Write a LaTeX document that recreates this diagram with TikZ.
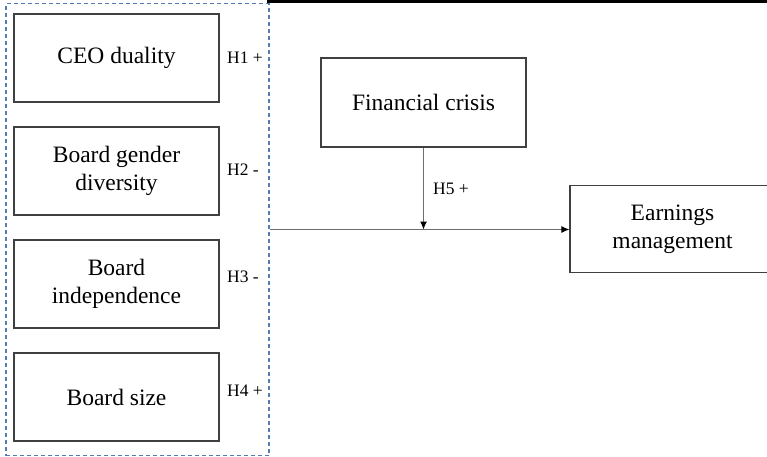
\documentclass[tikz,border=0pt]{standalone}
\usepackage{fontspec}
\setmainfont{Liberation Serif}
\usepackage{xcolor}
\usetikzlibrary{arrows.meta}
\definecolor{boxGray}{RGB}{64,64,64}
\definecolor{lineGray}{RGB}{110,110,110}
\definecolor{dashBlue}{RGB}{85,125,180}

\begin{document}
\begin{tikzpicture}[x=1pt,y=-1pt,
        var/.style={draw=boxGray,line width=1.2pt,minimum width=205pt,minimum height=88pt,
            inner sep=0pt,align=center,font=\fontsize{23.5}{27.5}\selectfont},
        hyp/.style={inner sep=0pt,anchor=west,font=\fontsize{17.5}{20}\selectfont},
        link/.style={draw=lineGray,line width=1pt,-{Latex[length=8pt,width=7pt,color=black]}}]
        \useasboundingbox (0,0) rectangle (767,456);
        \clip (0,0) rectangle (767,456);
        % top rule
        \draw[line width=3pt] (267,1.5) -- (767,1.5);
        % group of board variables
        \node[draw=dashBlue,line width=1.2pt,dash pattern=on 4pt off 3pt,
            minimum width=263pt,minimum height=452pt,inner sep=0pt] (group) at (137.5,229.5) {};
        % independent variables
        \node[var] (ceo) at (116.5,58) {CEO duality};
        \node[var] (gender) at (116.5,171) {Board gender\\diversity};
        \node[var] (indep) at (116.5,284) {Board\\independence};
        \node[var] (size) at (116.5,397) {Board size};
        % moderator and outcome
        \node[var,minimum height=89pt] (crisis) at (423.5,102.5) {Financial crisis};
        \node[var,minimum height=87pt] (earn) at (672.5,229) {Earnings\\management};
        % hypotheses
        \node[hyp] (h1) at (227,57.5) {H1 +};
        \node[hyp] (h2) at (227,170) {H2 -};
        \node[hyp] (h3) at (227,277) {H3 -};
        \node[hyp] (h4) at (227,391) {H4 +};
        % arrows
        \draw[link] (group.east) -- (group.east -| earn.west);
        \draw[link] (crisis.south) -- (crisis.south |- group.east);
        \node[hyp] (h5) at (433,189) {H5 +};
    \end{tikzpicture}
\end{document}
